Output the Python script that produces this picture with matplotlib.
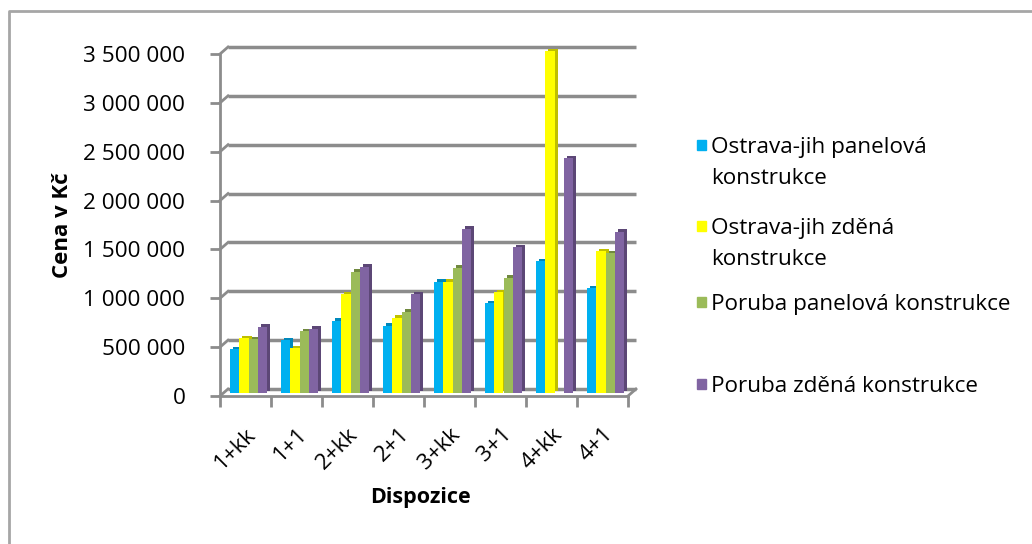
import matplotlib
matplotlib.use("Agg")
import matplotlib.pyplot as plt
import numpy as np
from matplotlib.transforms import ScaledTranslation, IdentityTransform
from matplotlib.lines import Line2D
from matplotlib.patches import Rectangle

# data
dispozice = ["1+kk", "1+1", "2+kk", "2+1", "3+kk", "3+1", "4+kk", "4+1"]
ostrava_panel = [450000, 540000, 740000, 690000, 1140000, 920000, 1350000, 1070000]
ostrava_zdena = [560000, 460000, 1010000, 770000, 1140000, 1030000, 3500000, 1450000]
poruba_panel = [550000, 630000, 1240000, 830000, 1280000, 1180000, 0, 1430000]
poruba_zdena = [680000, 660000, 1290000, 1010000, 1680000, 1490000, 2400000, 1650000]
series_names = ["Ostrava-jih panelová\nkonstrukce", "Ostrava-jih zděná\nkonstrukce",
                "Poruba panelová konstrukce", "Poruba zděná konstrukce"]
y_ticks = [0, 500000, 1000000, 1500000, 2000000, 2500000, 3000000, 3500000]

colors = ["#00B0F0", "#FFFF00", "#9BBB59", "#8064A2"]
darks = ["#0088BB", "#BFBF00", "#71893F", "#5C4776"]
grid_c = "#8C8C8C"
fs = 16.2

plt.rcParams["font.family"] = ["Open Sans", "DejaVu Sans"]
W, H = 1032, 544
fig = plt.figure(figsize=(W / 100, H / 100), dpi=100)
ax = fig.add_axes([220 / W, (H - 396) / H, 408 / W, (396 - 54) / H])
ax.set_xlim(-0.5, 7.5)
ax.set_ylim(0, 3500000)


def shift(px, py):
    return ax.transData + ScaledTranslation(px / fig.dpi, py / fig.dpi, fig.dpi_scale_trans)


def disp(x, y):
    return ax.transData.transform((x, y))


# back wall gridlines + small diagonals from the front axis
for v in y_ticks:
    ax.plot([-0.5, 7.5], [v, v], color=grid_c, lw=2.5, transform=shift(8, 7),
            clip_on=False, zorder=1, solid_capstyle="butt")
    p = disp(-0.5, v)
    fig.add_artist(Line2D([p[0], p[0] + 8], [p[1], p[1] + 7], color=grid_c, lw=2,
                          transform=IdentityTransform()))
p = disp(7.5, 0)
fig.add_artist(Line2D([p[0], p[0] + 8], [p[1], p[1] + 7], color=grid_c, lw=2,
                      transform=IdentityTransform()))

# bars with a bit of depth
x = np.arange(len(dispozice))
bw = 0.185
all_series = [ostrava_panel, ostrava_zdena, poruba_panel, poruba_zdena]
for i, vals in enumerate(all_series):
    xs = x + (i - 1.5) * bw
    ax.bar(xs, vals, width=bw, color=darks[i], transform=shift(6, 5.5),
           clip_on=False, zorder=2 + i * 2, linewidth=0)
    ax.bar(xs, vals, width=bw, color=colors[i], transform=shift(3, 3),
           clip_on=False, zorder=3 + i * 2, linewidth=0)

# axes styling
for s in ["top", "right"]:
    ax.spines[s].set_visible(False)
ax.spines["left"].set_color(grid_c)
ax.spines["left"].set_linewidth(2)
ax.spines["bottom"].set_color(grid_c)
ax.spines["bottom"].set_linewidth(2)
ax.set_yticks(y_ticks)
ax.set_yticklabels([f"{v:,}".replace(",", " ") for v in y_ticks])
ax.tick_params(axis="y", length=7, width=2, color=grid_c, labelsize=fs, pad=18)
ax.set_xticks(x)
ax.set_xticklabels(dispozice, rotation=45, ha="right", va="top", rotation_mode="anchor")
ax.set_xticks(np.arange(-0.5, 8, 1), minor=True)
ax.tick_params(axis="x", which="major", length=0, labelsize=fs, pad=20)
ax.tick_params(axis="x", which="minor", length=8, width=2, color=grid_c)
ax.set_facecolor("none")

fig.text(62 / W, 1 - 225 / H, "Cena v Kč", rotation=90, fontsize=16, fontweight="bold",
         ha="center", va="center")
fig.text(420 / W, 1 - 497 / H, "Dispozice", fontsize=15.5, fontweight="bold",
         ha="center", va="center")

# legend
leg_y = [145, 226, 302, 384]
for i, name in enumerate(series_names):
    fig.add_artist(Rectangle((697 / W, 1 - (leg_y[i] + 5) / H), 9 / W, 10 / H,
                             color=colors[i], transform=fig.transFigure))
    for j, line in enumerate(name.split("\n")):
        fig.text(711 / W, 1 - (leg_y[i] + 31 * j) / H, line, fontsize=fs,
                 ha="left", va="center_baseline")

# outer chart border
fig.add_artist(Line2D([9 / W, 9 / W, 1.0], [0, 1 - 11 / H, 1 - 11 / H], color="#A6A6A6",
                      lw=2, transform=fig.transFigure))

fig.savefig("out.png", dpi=100)
